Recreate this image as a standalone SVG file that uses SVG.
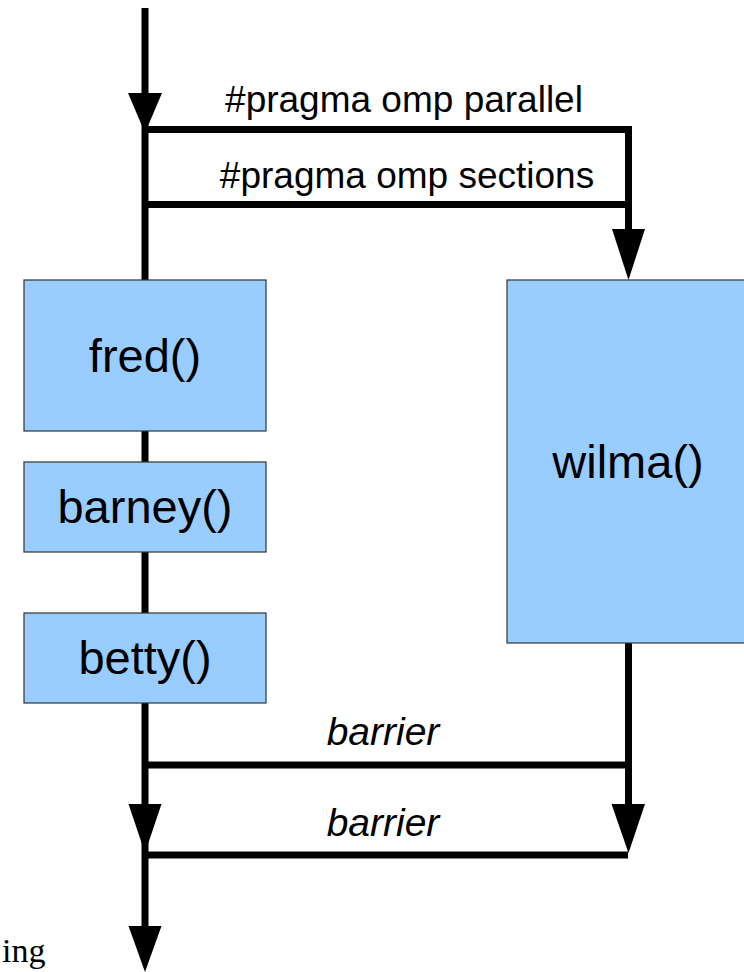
<svg xmlns="http://www.w3.org/2000/svg" width="744" height="972" viewBox="0 0 744 972">
<style>
.ln{fill:none;stroke:#000;stroke-width:7;stroke-linejoin:miter;stroke-linecap:butt}
.ah{fill:#000;stroke:none}
.box{fill:#99ccff;stroke:#333;stroke-width:1.2}
.bt{font-family:"Liberation Sans",Arial,sans-serif;font-size:47px;fill:#000;text-anchor:middle}
.lb{font-family:"Liberation Sans",Arial,sans-serif;font-size:37px;fill:#000;text-anchor:middle}
.it{font-style:italic;font-size:39px}
</style>
<rect width="744" height="972" fill="#fff"/>
<g id="connectors">
<path class="ln" d="M145,8 V940"/>
<path class="ln" d="M145,129.5 H628.5 V240"/>
<path class="ln" d="M145,204.5 H628.5"/>
<path class="ln" d="M628.5,643 V815"/>
<path class="ln" d="M145,765 H628.5"/>
<path class="ln" d="M145,855 H628"/>
<polygon class="ah" points="128,93 162,93 145,133"/>
<polygon class="ah" points="612,229 645,229 628.5,280"/>
<polygon class="ah" points="128.5,804 161.5,804 145,853"/>
<polygon class="ah" points="611.5,804 645,804 628.5,853"/>
<polygon class="ah" points="128.5,926 161.5,926 145,972"/>
<text class="lb" x="404" y="112">#pragma omp parallel</text>
<text class="lb" x="407" y="188">#pragma omp sections</text>
<text class="lb it" x="383" y="745">barrier</text>
<text class="lb it" x="383" y="836">barrier</text>
</g>
<g id="fred">
<rect class="box" x="24" y="280" width="242" height="151"/>
<text class="bt" x="145" y="372">fred()</text>
</g>
<g id="barney">
<rect class="box" x="24" y="462" width="242" height="90"/>
<text class="bt" x="145" y="523">barney()</text>
</g>
<g id="betty">
<rect class="box" x="24" y="613" width="242" height="90"/>
<text class="bt" x="145" y="674">betty()</text>
</g>
<g id="wilma">
<rect class="box" x="507" y="280" width="250" height="363"/>
<text class="bt" x="628" y="478">wilma()</text>
</g>
<text x="2" y="962" font-family="'Liberation Serif','Times New Roman',serif" font-size="34" fill="#000">ing</text>
</svg>
